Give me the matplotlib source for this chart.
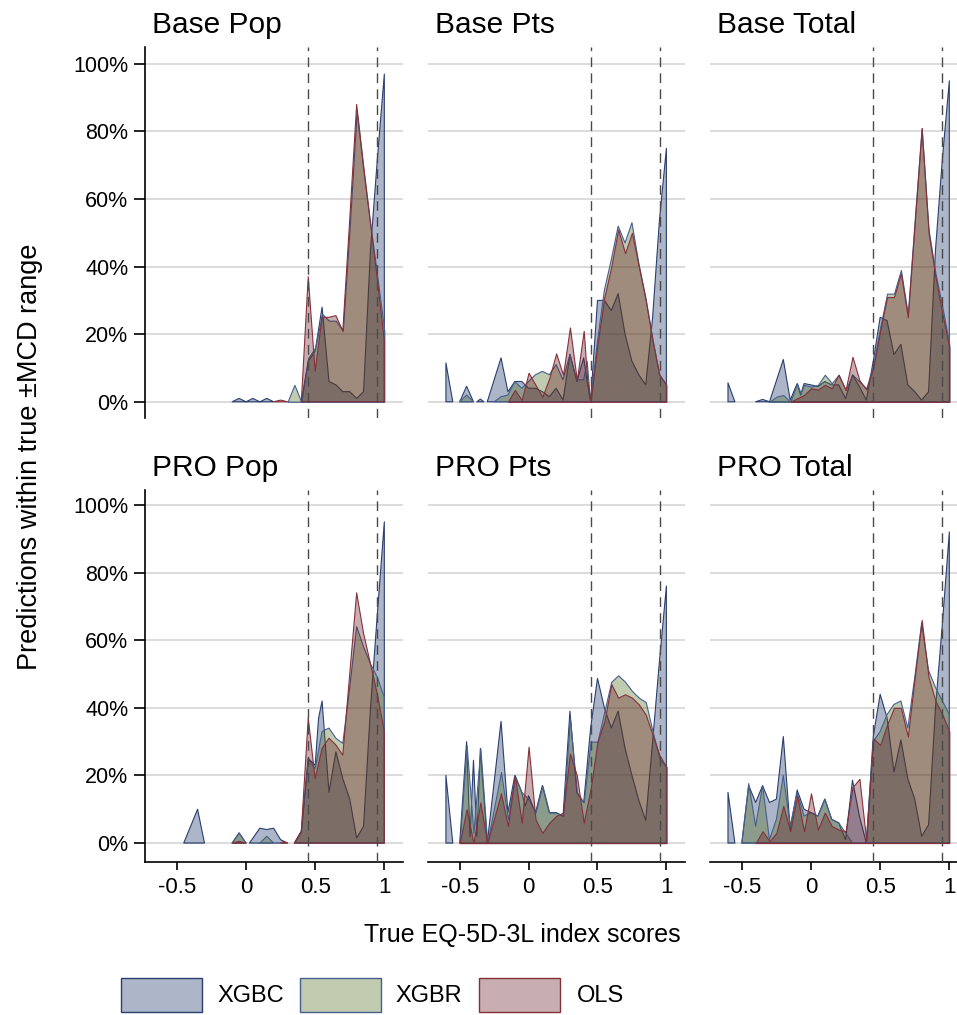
import numpy as np
import matplotlib
matplotlib.use("Agg")
import matplotlib.pyplot as plt
from matplotlib.colors import to_rgba
from matplotlib.patches import Rectangle

plt.rcParams["font.family"] = ["Liberation Sans", "DejaVu Sans"]

models = ["XGBC", "XGBR", "OLS"]
titles = ["Base Pop", "Base Pts", "Base Total", "PRO Pop", "PRO Pts", "PRO Total"]
yticks = [0, 20, 40, 60, 80, 100]
ytick_labels = ["0%", "20%", "40%", "60%", "80%", "100%"]
xticks = [-0.5, 0, 0.5, 1]
xtick_labels = ["-0.5", "0", "0.5", "1"]
mcd_lines = [0.45, 0.95]

# (true index score, % of predictions within MCD); None = gap in the series
base_pop_xgbc = [(-0.1, 0), (-0.05, 1), (0, 0), (0.05, 1), (0.1, 0), (0.15, 1), (0.2, 0), None,
                 (0.4, 0), (0.45, 12), (0.5, 15), (0.55, 28), (0.6, 6), (0.65, 5), (0.7, 3), (0.75, 3),
                 (0.8, 1), (0.85, 3), (0.9, 45), (0.95, 72), (1.0, 97)]
base_pop_xgbr = [(0.3, 0), (0.35, 5), (0.4, 0), (0.45, 13), (0.5, 16), (0.55, 26), (0.6, 24), (0.65, 24),
                 (0.7, 21), (0.75, 52), (0.8, 86), (0.85, 68), (0.9, 52), (0.95, 37), (1.0, 21)]
base_pop_ols = [(0.2, 0), (0.25, 0.5), (0.3, 0), None,
                (0.4, 0), (0.45, 37), (0.5, 9), (0.55, 25), (0.6, 25), (0.65, 25.5), (0.7, 21), (0.75, 54),
                (0.8, 88), (0.85, 70), (0.9, 53), (0.95, 36), (1.0, 18)]

base_pts_xgbc = [(-0.6, 11.5), (-0.55, 0), None, (-0.5, 0), (-0.45, 4.6), (-0.4, 0), None,
                 (-0.375, 0), (-0.35, 0.8), (-0.325, 0), None,
                 (-0.3, 0), (-0.2, 13), (-0.15, 3), (-0.1, 6), (-0.05, 6), (0, 4), (0.05, 4), (0.1, 3),
                 (0.15, 1.5), (0.2, 4), (0.25, 0.5), (0.3, 14), (0.35, 6), (0.4, 13), (0.425, 6), (0.45, 0),
                 (0.5, 30), (0.55, 30), (0.6, 27), (0.65, 32), (0.7, 20), (0.75, 12), (0.8, 8), (0.85, 5),
                 (0.9, 25), (0.95, 54), (1.0, 75)]
base_pts_xgbr = [(-0.5, 0), (-0.45, 2), (-0.4, 0), None,
                 (-0.25, 0), (-0.2, 1.5), (-0.15, 2), (-0.1, 6), (-0.05, 4), (0, 6), (0.05, 8), (0.1, 9),
                 (0.15, 8), (0.2, 11), (0.25, 6.5), (0.3, 14), (0.35, 6.5), (0.4, 6.5), (0.425, 12), (0.45, 0),
                 (0.5, 18), (0.55, 33), (0.6, 42), (0.65, 52), (0.7, 47), (0.75, 53), (0.8, 41), (0.85, 31),
                 (0.9, 19), (0.95, 8), (1.0, 5)]
base_pts_ols = [(-0.15, 0), (-0.1, 3.5), (-0.05, 0.5), (0, 8.6), (0.05, 5), (0.1, 1.5), (0.15, 7), (0.2, 14.3),
                (0.25, 8), (0.3, 22), (0.35, 6.4), (0.4, 21), (0.425, 6.5), (0.45, 0), (0.5, 17), (0.55, 31),
                (0.6, 40), (0.65, 51), (0.7, 44), (0.75, 50), (0.8, 40), (0.85, 30), (0.9, 18), (0.95, 8),
                (1.0, 5)]

base_total_xgbc = [(-0.6, 5.6), (-0.55, 0), None, (-0.4, 0), (-0.35, 0.7), (-0.3, 0), (-0.2, 12.5),
                   (-0.15, 0.5), (-0.1, 5.4), (-0.075, 2), (-0.05, 5.4), (0, 5), (0.05, 4.5), (0.1, 6),
                   (0.15, 5), (0.2, 5), (0.25, 1), (0.3, 8), (0.35, 4.5), (0.4, 0.5), (0.45, 12), (0.5, 25),
                   (0.55, 24), (0.6, 14), (0.65, 17), (0.7, 5), (0.75, 3), (0.8, 0.5), (0.85, 3), (0.9, 45),
                   (0.95, 72), (1.0, 95)]
base_total_xgbr = [(-0.3, 0), (-0.25, 1.5), (-0.2, 2), (-0.15, 0), (-0.1, 5.4), (-0.075, 2.5), (-0.05, 5),
                   (0, 4.5), (0.05, 5), (0.1, 8), (0.15, 5.5), (0.2, 8), (0.25, 3.5), (0.3, 8), (0.35, 6),
                   (0.4, 4), (0.45, 11), (0.5, 22), (0.55, 32), (0.6, 32), (0.65, 39), (0.7, 26), (0.75, 54),
                   (0.8, 81), (0.85, 51), (0.9, 38), (0.95, 28), (1.0, 17)]
base_total_ols = [(-0.15, 0), (-0.1, 1), (-0.05, 2), (0, 4), (0.05, 3.6), (0.1, 5), (0.15, 4), (0.2, 8),
                  (0.25, 3.5), (0.3, 13.3), (0.35, 6.4), (0.4, 3.6), (0.45, 10), (0.5, 21), (0.55, 31),
                  (0.6, 31), (0.65, 38), (0.7, 25), (0.75, 53), (0.8, 81), (0.85, 50), (0.9, 37), (0.95, 26),
                  (1.0, 16)]

pro_pop_xgbc = [(-0.45, 0), (-0.35, 10), (-0.3, 0), None, (-0.1, 0), (-0.05, 3), (0, 0), None,
                (0.025, 0), (0.1, 4.4), (0.15, 4), (0.2, 4.4), (0.25, 1), (0.3, 0), None,
                (0.35, 0), (0.4, 3.5), (0.45, 25), (0.5, 23), (0.525, 37), (0.55, 42), (0.6, 15), (0.65, 27),
                (0.7, 19), (0.75, 13), (0.8, 1.5), (0.85, 5), (0.9, 40), (0.95, 68), (1.0, 95)]
pro_pop_xgbr = [(-0.1, 0), (-0.05, 3), (0, 0), None, (0.1, 0), (0.15, 2), (0.2, 0), None,
                (0.35, 0), (0.4, 3), (0.45, 25), (0.5, 22), (0.55, 33), (0.6, 34), (0.65, 31), (0.7, 29.5),
                (0.75, 46), (0.8, 64), (0.85, 58), (0.9, 53), (0.95, 49), (1.0, 43)]
pro_pop_ols = [(-0.1, 0), (-0.05, 0.5), (0, 0), None, (0.25, 0), (0.275, 0.5), (0.3, 0), None,
               (0.35, 0), (0.4, 3.5), (0.45, 37), (0.5, 19), (0.55, 28), (0.6, 31), (0.65, 29), (0.7, 26),
               (0.75, 50), (0.8, 74), (0.85, 62), (0.9, 53), (0.95, 44), (1.0, 33)]

pro_pts_xgbc = [(-0.6, 20), (-0.55, 0), None,
                (-0.5, 0), (-0.45, 30), (-0.425, 2), (-0.4, 24.5), (-0.375, 2), (-0.35, 28), (-0.3, 0),
                (-0.2, 36), (-0.15, 9), (-0.1, 20), (-0.05, 15), (-0.025, 11), (0, 14), (0.05, 9), (0.1, 17),
                (0.15, 9), (0.2, 9), (0.25, 8), (0.3, 39), (0.35, 15), (0.4, 12), (0.45, 34), (0.5, 48.7),
                (0.55, 40), (0.6, 34), (0.65, 39), (0.7, 28), (0.75, 20), (0.8, 12.6), (0.85, 6.7), (0.9, 30),
                (0.95, 54), (1.0, 76)]
pro_pts_xgbr = [(-0.5, 0), (-0.45, 29), (-0.4, 3), (-0.35, 28), (-0.3, 0), (-0.2, 21), (-0.15, 7),
                (-0.1, 20), (-0.05, 15), (0, 13), (0.05, 9), (0.1, 17), (0.15, 9), (0.2, 9), (0.25, 8),
                (0.3, 37), (0.35, 15), (0.4, 12), (0.45, 30), (0.5, 30), (0.55, 39), (0.6, 47.7), (0.65, 49.6),
                (0.7, 47.7), (0.75, 45), (0.8, 43), (0.85, 41.7), (0.9, 33), (0.95, 25), (1.0, 22.5)]
pro_pts_ols = [(-0.5, 0), (-0.45, 10), (-0.4, 0), (-0.35, 12), (-0.3, 0), (-0.2, 14.7), (-0.15, 5),
               (-0.1, 20), (-0.05, 6), (0, 28.5), (0.05, 7), (0.1, 3), (0.15, 6), (0.2, 8), (0.25, 9),
               (0.3, 26.5), (0.35, 20), (0.4, 6), (0.45, 16), (0.5, 30), (0.55, 36), (0.6, 47), (0.65, 43),
               (0.7, 44), (0.75, 43), (0.8, 41), (0.85, 38), (0.9, 32), (0.95, 26), (1.0, 22.5)]

pro_total_xgbc = [(-0.6, 15), (-0.55, 0), None,
                  (-0.5, 0), (-0.45, 17), (-0.4, 12), (-0.35, 17), (-0.3, 12), (-0.25, 13), (-0.2, 31.5),
                  (-0.15, 4), (-0.1, 15.7), (-0.05, 10), (0, 9), (0.05, 8), (0.1, 13), (0.15, 7), (0.2, 6),
                  (0.25, 1), (0.3, 18.6), (0.35, 8), (0.4, 0), (0.45, 31.5), (0.5, 44), (0.55, 37), (0.6, 21),
                  (0.65, 30.5), (0.7, 19), (0.75, 13), (0.8, 2), (0.85, 5.4), (0.9, 40), (0.95, 65), (1.0, 92)]
pro_total_xgbr = [(-0.5, 0), (-0.45, 17.6), (-0.4, 5), (-0.35, 17), (-0.3, 1), (-0.25, 7), (-0.2, 20),
                  (-0.15, 5), (-0.1, 15), (-0.05, 8), (0, 9), (0.05, 8), (0.1, 13), (0.15, 7), (0.2, 6),
                  (0.25, 3), (0.3, 0), None,
                  (0.4, 0), (0.45, 30), (0.5, 33), (0.55, 38), (0.6, 41), (0.65, 42), (0.7, 34), (0.75, 49),
                  (0.8, 65), (0.85, 51), (0.9, 46), (0.95, 42), (1.0, 38)]
pro_total_ols = [(-0.4, 0), (-0.35, 3.5), (-0.3, 0.5), (-0.25, 3), (-0.2, 11), (-0.15, 3.5), (-0.1, 14),
                 (-0.05, 3.5), (0, 14.7), (0.05, 4), (0.1, 9), (0.15, 5), (0.2, 4), (0.25, 3.5), (0.3, 16.5),
                 (0.35, 19), (0.4, 0.5), (0.45, 31), (0.5, 29), (0.55, 35), (0.6, 40), (0.65, 40), (0.7, 31.5),
                 (0.75, 49), (0.8, 66), (0.85, 49), (0.9, 42), (0.95, 38), (1.0, 33)]

panels = [
    [base_pop_xgbc, base_pop_xgbr, base_pop_ols],
    [base_pts_xgbc, base_pts_xgbr, base_pts_ols],
    [base_total_xgbc, base_total_xgbr, base_total_ols],
    [pro_pop_xgbc, pro_pop_xgbr, pro_pop_ols],
    [pro_pts_xgbc, pro_pts_xgbr, pro_pts_ols],
    [pro_total_xgbc, pro_total_xgbr, pro_total_ols],
]

fill_colors = ["#122f62", "#4e6a1d", "#621820"]
edge_colors = ["#2a3f6e", "#46608e", "#86303b"]
fill_alpha = 0.35


def to_xy(points):
    xs, ys = [], []
    for p in points:
        if p is None:
            xs.append(np.nan)
            ys.append(np.nan)
        else:
            xs.append(p[0])
            ys.append(p[1])
    return np.array(xs), np.array(ys)


W, H = 957, 1015
fig = plt.figure(figsize=(W / 100, H / 100), dpi=100)

cols_px = [(145, 403), (428, 685), (710, 968)]
rows_px = [(47, 418), (490, 862)]
row_ylims = [(-4.8, 105), (-5.6, 104.4)]

for i, series in enumerate(panels):
    r, c = divmod(i, 3)
    l, rgt = cols_px[c]
    t, b = rows_px[r]
    ax = fig.add_axes([l / W, 1 - b / H, (rgt - l) / W, (b - t) / H])
    ax.set_xlim(-0.73, 1.135)
    ax.set_ylim(*row_ylims[r])

    for k in range(3):
        xs, ys = to_xy(series[k])
        ax.fill_between(xs, 0, ys, facecolor=to_rgba(fill_colors[k], fill_alpha),
                        edgecolor=edge_colors[k], linewidth=0.8, zorder=2 + k)

    for v in mcd_lines:
        ax.axvline(v, color="#4a4a4a", lw=1.0, ls=(0, (7, 4.5)), zorder=6)

    ax.set_yticks(yticks)
    ax.set_yticklabels(ytick_labels)
    ax.yaxis.grid(True, color="#d9d9d9", lw=1.3)
    ax.set_axisbelow(True)
    ax.set_xticks(xticks)
    ax.set_xticklabels(xtick_labels)

    for s in ["top", "right"]:
        ax.spines[s].set_visible(False)
    ax.spines["left"].set_visible(c == 0)
    ax.spines["bottom"].set_visible(r == 1)
    ax.spines["left"].set_linewidth(1.2)
    ax.spines["bottom"].set_linewidth(1.2)

    ax.tick_params(axis="y", direction="out", length=8, width=1.2, labelsize=15.5, pad=4,
                   left=(c == 0), labelleft=(c == 0))
    ax.tick_params(axis="x", direction="out", length=6, width=1.2, labelsize=16, pad=5,
                   bottom=(r == 1), labelbottom=(r == 1))

    fig.text((l + 7) / W, 1 - (t - 14) / H, titles[i], fontsize=21.5, ha="left", va="baseline")

fig.text(30 / W, 1 - 457 / H, "Predictions within true \u00b1MCD range", rotation=90,
         fontsize=19.5, ha="center", va="center")
fig.text(522 / W, 1 - 935 / H, "True EQ-5D-3L index scores", fontsize=18, ha="center", va="center")

# legend
box_left = [121, 300, 479]
label_left = [217, 395, 577]
for k in range(3):
    fig.patches.append(Rectangle((box_left[k] / W, 1 - 1012 / H), 81 / W, 34 / H,
                                 transform=fig.transFigure,
                                 facecolor=to_rgba(fill_colors[k], fill_alpha),
                                 edgecolor=edge_colors[k], lw=1.0))
    fig.text(label_left[k] / W, 1 - 996 / H, models[k], fontsize=17, ha="left", va="center")

fig.savefig("out.png", dpi=100)
